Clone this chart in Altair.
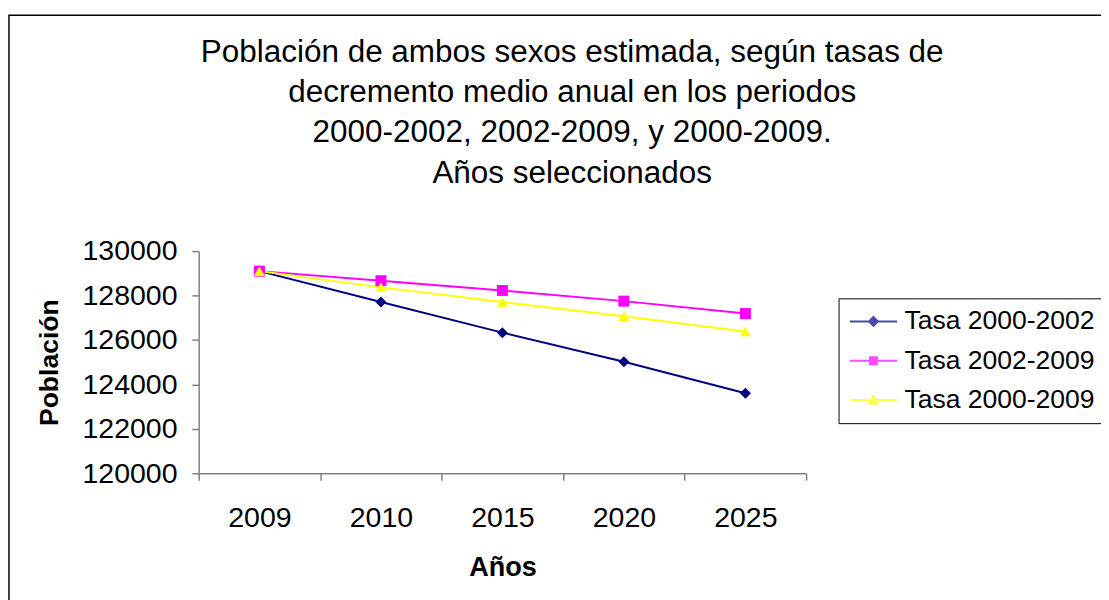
import altair as alt
import pandas as pd

# ---- data ----
anios = ["2009", "2010", "2015", "2020", "2025"]
series = ["Tasa 2000-2002", "Tasa 2002-2009", "Tasa 2000-2009"]
tasa_2000_2002 = [129100, 127710, 126330, 125020, 123600]
tasa_2002_2009 = [129100, 128670, 128230, 127750, 127190]
tasa_2000_2009 = [129100, 128370, 127710, 127070, 126380]
y_ticks = [120000, 122000, 124000, 126000, 128000, 130000]
titulo = [
    "Población de ambos sexos estimada, según tasas de",
    "decremento medio anual en los periodos",
    " 2000-2002, 2002-2009, y 2000-2009.",
    "Años seleccionados",
]

colores = ["#000080", "#FF00FF", "#FFFF00"]
formas = ["diamond", "square", "triangle-up"]
formas_leyenda = [
    "M-2.4,0H2.4M0,-0.45L0.45,0L0,0.45L-0.45,0Z",
    "M-2.4,0H2.4M-0.35,-0.35H0.35V0.35H-0.35Z",
    "M-2.4,0H2.4M0,-0.42L0.45,0.36H-0.45Z",
]

rows = []
for s, vals in zip(series, [tasa_2000_2002, tasa_2002_2009, tasa_2000_2009]):
    for a, v in zip(anios, vals):
        rows.append({"serie": s, "anio": a, "valor": v})
df = pd.DataFrame(rows)

FONT = "Liberation Sans"

x_enc = alt.X(
    "anio:O",
    sort=anios,
    scale=alt.Scale(type="band", domain=anios, paddingInner=0, paddingOuter=0),
    bandPosition=0.5,
    axis=alt.Axis(
        title="Años",
        labelAngle=0,
        tickBand="extent",
        labelFontSize=29,
        labelPadding=24,
        tickSize=7,
        titleFontSize=27.5,
        titleFontWeight="bold",
        titlePadding=22,
    ),
)
y_enc = alt.Y(
    "valor:Q",
    scale=alt.Scale(domain=[120000, 130000], nice=False, zero=False),
    axis=alt.Axis(
        title="Población",
        values=y_ticks,
        format="d",
        labelFontSize=29,
        labelPadding=15,
        tickSize=7,
        titleFontSize=27,
        titleFontWeight="bold",
        titlePadding=19,
        grid=False,
    ),
)

color_scale = alt.Scale(domain=series, range=colores)

marco = alt.Chart(pd.DataFrame({"k": [0]})).mark_rect(
    fill="transparent", stroke="black", strokeWidth=1.5
).encode(
    x=alt.value(-193), x2=alt.value(1100), y=alt.value(-240), y2=alt.value(600)
)

lineas = alt.Chart(df).mark_line(strokeWidth=2).encode(
    x=x_enc,
    y=y_enc,
    color=alt.Color("serie:N", scale=color_scale, legend=None),
    detail="serie:N",
)

puntos = alt.Chart(df).mark_point(filled=True, size=125, opacity=1).encode(
    x=x_enc,
    y=y_enc,
    color=alt.Color("serie:N", scale=color_scale, legend=None),
    shape=alt.Shape("serie:N", scale=alt.Scale(domain=series, range=formas), legend=None),
)

leg_props = dict(
    title=None,
    orient="none",
    legendX=651,
    legendY=48,
    labelFontSize=27,
    labelFont=FONT,
    labelColor="black",
    labelLimit=500,
    labelOffset=18,
    symbolOffset=12,
    symbolSize=400,
    symbolStrokeWidth=2,
    padding=10,
    rowPadding=12,
    strokeColor="black",
    fillColor="white",
)

leyenda = alt.Chart(df).mark_point(filled=True, size=400).encode(
    x=x_enc,
    y=y_enc,
    color=alt.Color("serie:N", scale=color_scale, legend=alt.Legend(**leg_props)),
    stroke=alt.Stroke("serie:N", scale=color_scale, legend=alt.Legend(**leg_props)),
    shape=alt.Shape(
        "serie:N",
        scale=alt.Scale(domain=series, range=formas_leyenda),
        legend=alt.Legend(**leg_props),
    ),
).transform_filter("datum.valor < 0")

chart = (
    alt.layer(marco, lineas, puntos, leyenda)
    .resolve_scale(color="independent", shape="independent", stroke="independent")
    .properties(
        width=618,
        height=226,
        autosize=alt.AutoSizeParams(type="none"),
        padding={"left": 194, "top": 242, "right": 300, "bottom": 150},
        title=alt.TitleParams(
            text=titulo,
            font=FONT,
            fontSize=32,
            fontWeight="normal",
            color="black",
            anchor="middle",
            frame="group",
            dx=71,
            offset=-178,
            lineHeight=41,
        ),
    )
    .configure(font=FONT, background="white")
    .configure_view(stroke=None)
    .configure_axis(
        domainColor="#808080",
        tickColor="#808080",
        domainWidth=1.5,
        tickWidth=1.5,
        labelColor="black",
        titleColor="black",
        labelFont=FONT,
        titleFont=FONT,
    )
)

chart.save("out.html", embed_options={"renderer": "svg", "actions": False})
